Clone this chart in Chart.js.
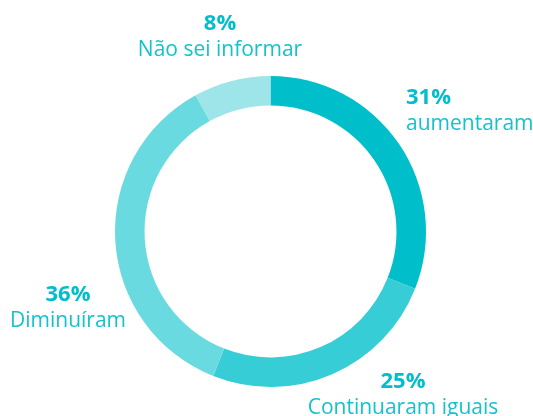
<!DOCTYPE html>
<html>
<head>
<meta charset="utf-8">
<script src="https://cdn.jsdelivr.net/npm/chart.js@4.4.1/dist/chart.umd.min.js"></script>
<style>
    html, body { margin: 0; padding: 0; background: #ffffff; }
    #wrap { width: 533px; height: 416px; }
</style>
</head>
<body>
<div id="wrap"><canvas id="donutChart" width="533" height="416"></canvas></div>
<script>
// chart data
const categories = ['aumentaram', 'Continuaram iguais', 'Diminuíram', 'Não sei informar'];
const percentages = [31, 25, 36, 8];
const sliceColors = ['#00BFCB', '#36CDD7', '#69DBE0', '#9DE5E9'];

//################# Label placement (one entry per category) #################
const labelSpots = [
    { x: 406, y: 104, align: 'left' },
    { x: 403, y: 388, align: 'center' },
    { x: 68, y: 301, align: 'center' },
    { x: 220, y: 30, align: 'center' },
];

const sliceLabels = {
    id: 'sliceLabels',
    afterDraw(chart) {
        const ctx = chart.ctx;
        const labels = chart.data.labels;
        const values = chart.data.datasets[0].data;
        ctx.save();
        ctx.fillStyle = '#00BECB';
        ctx.textBaseline = 'alphabetic';
        labels.forEach((label, i) => {
            const spot = labelSpots[i];
            ctx.textAlign = spot.align;
            ctx.font = 'bold 22px "Open Sans"';
            ctx.fillText(values[i] + '%', spot.x, spot.y);
            ctx.fillStyle = '#14C2CE';
            ctx.font = '21px "Open Sans"';
            ctx.fillText(label, spot.x, spot.y + 25.5);
            ctx.fillStyle = '#00BECB';
        });
        ctx.restore();
    }
};

const donutChart = new Chart(document.getElementById('donutChart'), {
    type: 'doughnut',
    data: {
        labels: categories,
        datasets: [
            {
                data: percentages,
                backgroundColor: sliceColors,
                borderWidth: 0,
            },
        ],
    },
    options: {
        responsive: false,
        animation: false,
        cutout: '81%',
        layout: {
            padding: { left: 115, right: 107, top: 76, bottom: 29 },
        },
        plugins: {
            legend: { display: false },
            tooltip: { enabled: false },
        },
    },
    plugins: [sliceLabels],
});
</script>
</body>
</html>
